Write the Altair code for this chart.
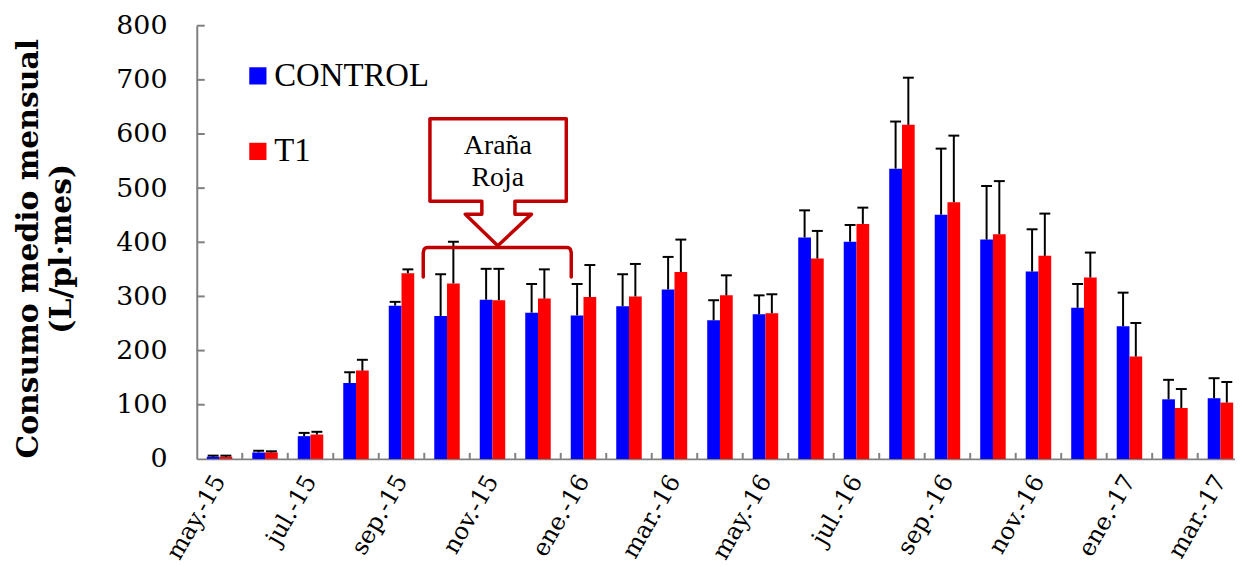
import altair as alt
import pandas as pd

# ---------------- data ----------------
months = ["may.-15", "jun.-15", "jul.-15", "ago.-15", "sep.-15", "oct.-15", "nov.-15",
          "dic.-15", "ene.-16", "feb.-16", "mar.-16", "abr.-16", "may.-16", "jun.-16",
          "jul.-16", "ago.-16", "sep.-16", "oct.-16", "nov.-16", "dic.-16", "ene.-17",
          "feb.-17", "mar.-17"]
control_mean = [4, 12, 42, 140, 283, 264, 294, 270, 265, 282, 313, 256, 267, 409, 401,
                536, 451, 405, 346, 279, 245, 110, 112]
control_err = [2, 3, 6, 20, 7, 77, 57, 53, 58, 59, 60, 37, 35, 50, 31, 87, 122, 99, 78,
               44, 62, 36, 37]
t1_mean = [4, 12, 45, 163, 343, 324, 293, 296, 299, 300, 345, 302, 269, 370, 434, 617,
           474, 415, 375, 335, 189, 94, 104]
t1_err = [2, 2, 5, 20, 7, 77, 58, 54, 59, 60, 60, 37, 35, 51, 30, 87, 123, 98, 78, 46,
          62, 35, 38]
series_names = ["CONTROL", "T1"]
series_colors = ["#0000FF", "#FF0000"]
y_ticks = [0, 100, 200, 300, 400, 500, 600, 700, 800]
label_every = 2
callout_lines = ["Araña", "Roja"]

# annotation geometry (data units: x = month index, y = L/pl·mes)
callout_x = [5.125, 8.122, 8.122, 6.993, 6.993, 7.358, 6.616, 5.902, 6.266, 6.266, 5.125, 5.125]
callout_y = [628.0, 628.0, 476.0, 476.0, 452.0, 452.0, 393.5, 452.0, 452.0, 476.0, 476.0, 628.0]
bracket_x = [4.978, 4.978, 4.998, 5.033, 5.087, 8.122, 8.176, 8.211, 8.231, 8.231]
bracket_y = [336.0, 381.0, 387.5, 389.8, 390.3, 390.3, 389.8, 387.5, 381.0, 336.0]
callout_text_x = 6.616
callout_text_y = 563.0

# ---------------- tables ----------------
rows = []
for i, m in enumerate(months):
    rows.append({"idx": i, "month": m, "series": series_names[0],
                 "mean": control_mean[i], "err": control_err[i]})
    rows.append({"idx": i, "month": m, "series": series_names[1],
                 "mean": t1_mean[i], "err": t1_err[i]})
df = pd.DataFrame(rows)

bounds_df = pd.DataFrame({"b": list(range(1, len(months)))})
yt_df = pd.DataFrame({"v": y_ticks[1:]})
shape_df = pd.DataFrame(
    [{"shape": "callout", "k": k, "px": x, "py": y} for k, (x, y) in enumerate(zip(callout_x, callout_y))]
    + [{"shape": "bracket", "k": k, "px": x, "py": y} for k, (x, y) in enumerate(zip(bracket_x, bracket_y))]
)
text_df = pd.DataFrame({"tx": [callout_text_x], "ty": [callout_text_y],
                        "label": ["\n".join(callout_lines)]})

# ---------------- layout constants ----------------
W, H = 1045, 436
X_MAX = 22.82
STEP = W / X_MAX
GRAY = "#808080"
SERIF = "DejaVu Serif"

xscale = alt.Scale(domain=[0, X_MAX], nice=False, zero=False)
yscale = alt.Scale(domain=[0, 800], nice=False)

label_js = "[" + ",".join("'%s'" % m for m in months) + "][datum.value]"

x_axis = alt.Axis(
    values=list(range(0, len(months), label_every)),
    labelExpr=label_js,
    labelOffset=STEP / 2,
    labelAngle=300,
    labelAlign="right",
    labelBaseline="middle",
    labelPadding=18,
    labelFont=SERIF,
    labelFontSize=24,
    labelColor="black",
    labelFlush=False,
    labelOverlap=False,
    labelBound=False,
    ticks=False,
    tickSize=0,
    grid=False,
    domainColor=GRAY,
    domainWidth=2,
    title=None,
)
y_axis = alt.Axis(
    values=y_ticks,
    ticks=False,
    tickSize=0,
    grid=False,
    labelPadding=30,
    labelFont=SERIF,
    labelFontSize=27,
    labelColor="black",
    labelOverlap=False,
    labelFlush=False,
    domainColor=GRAY,
    domainWidth=2,
    title=["Consumo medio mensual", "(L/pl·mes)"],
    titleFont=SERIF,
    titleFontSize=30,
    titleFontWeight="bold",
    titleColor="black",
    titleLineHeight=33,
    titleAngle=270,
    titleAlign="center",
    titleBaseline="top",
    titleX=-184,
    titleY=224,
)

base = alt.Chart(df).transform_calculate(
    x0="datum.idx + (datum.series == 'CONTROL' ? 0.22 : 0.5)",
    zero="0",
).transform_calculate(
    x1="datum.x0 + 0.28",
    xc="datum.x0 + 0.14",
    top="datum.mean + datum.err",
).transform_calculate(
    c0="datum.xc - 0.12",
    c1="datum.xc + 0.12",
)

bars = base.mark_bar().encode(
    x=alt.X("x0:Q", scale=xscale, axis=x_axis),
    x2="x1:Q",
    y=alt.Y("mean:Q", scale=yscale, axis=y_axis),
    y2="zero:Q",
    color=alt.Color(
        "series:N",
        scale=alt.Scale(domain=series_names, range=series_colors),
        legend=alt.Legend(
            orient="none", legendX=45, legendY=34, title=None,
            symbolType="square", symbolSize=300, symbolStrokeWidth=0,
            labelFont="Liberation Serif", labelFontSize=33, labelColor="black",
            labelOffset=0, rowPadding=42, padding=0,
        ),
    ),
)

err_lines = base.mark_rule(color="black", strokeWidth=2).encode(
    x=alt.X("xc:Q", scale=xscale),
    y=alt.Y("mean:Q", scale=yscale),
    y2="top:Q",
)
err_caps = base.mark_rule(color="black", strokeWidth=2).encode(
    x=alt.X("c0:Q", scale=xscale),
    x2="c1:Q",
    y=alt.Y("top:Q", scale=yscale),
)

x_ticks = alt.Chart(bounds_df).mark_rule(color=GRAY, strokeWidth=2).encode(
    x=alt.X("b:Q", scale=xscale),
    y=alt.value(H),
    y2=alt.value(H - 6),
)
y_ticks_marks = alt.Chart(yt_df).mark_rule(color=GRAY, strokeWidth=2).encode(
    y=alt.Y("v:Q", scale=yscale),
    x=alt.value(0),
    x2=alt.value(8),
)

shapes = alt.Chart(shape_df).mark_line(
    color="#C00000", strokeWidth=3.5, strokeJoin="round", strokeCap="round"
).encode(
    x=alt.X("px:Q", scale=xscale),
    y=alt.Y("py:Q", scale=yscale),
    detail="shape:N",
    order="k:Q",
)

callout_text = alt.Chart(text_df).mark_text(
    font="Liberation Serif", fontSize=28, lineBreak="\n", lineHeight=32,
    align="center", baseline="alphabetic", color="black",
).encode(
    x=alt.X("tx:Q", scale=xscale),
    y=alt.Y("ty:Q", scale=yscale),
    text="label:N",
)

chart = alt.layer(
    bars, err_lines, err_caps, x_ticks, y_ticks_marks, shapes, callout_text
).properties(
    width=W, height=H,
    background="white",
    autosize=alt.AutoSizeParams(type="none"),
    padding={"left": 190, "top": 16, "right": 0, "bottom": 107},
).configure_view(stroke=None)

chart.save("out.html", embed_options={"renderer": "svg", "actions": False})
